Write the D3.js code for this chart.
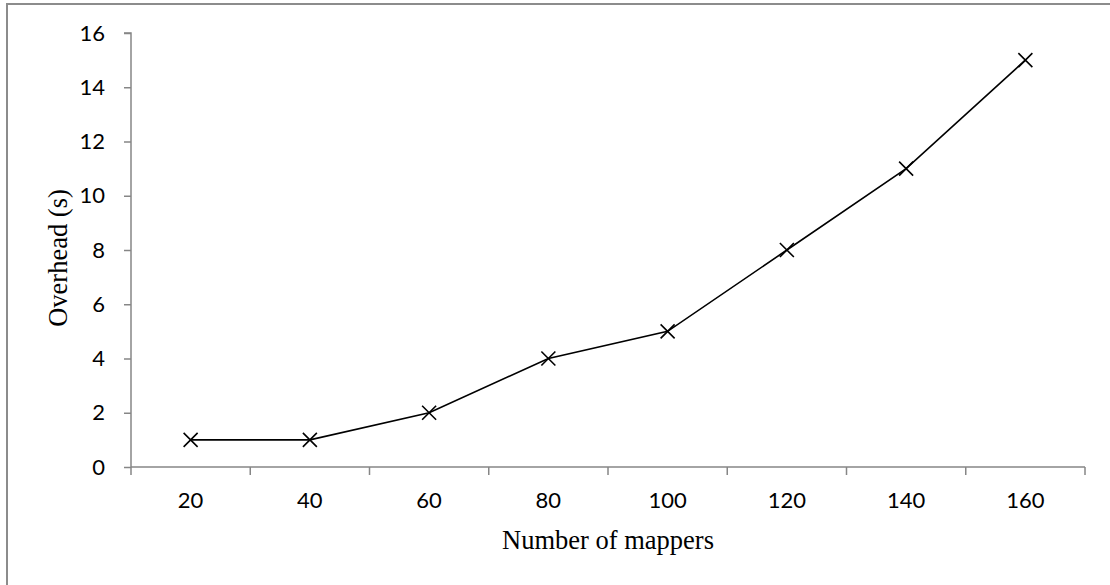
<!DOCTYPE html>
<html>
<head>
<meta charset="utf-8">
<script src="https://cdn.jsdelivr.net/npm/d3@7"></script>
<style>
  body { margin: 0; background: #fff; }
  .axis path, .axis line { stroke: #868686; stroke-width: 1.5; }
  .axis text { font-family: Lato, "Liberation Sans", sans-serif; font-size: 22px; fill: #000; }
</style>
</head>
<body>
<div id="chart"></div>
<script>
// data
const mappers = ["20", "40", "60", "80", "100", "120", "140", "160"];
const overhead = [1, 1, 2, 4, 5, 8, 11, 15];
const yTicks = [0, 2, 4, 6, 8, 10, 12, 14, 16];

const width = 1110;
const height = 585;
const margin = { left: 131, right: 25, top: 33, bottom: 118 };
const plotW = width - margin.left - margin.right;
const plotH = height - margin.top - margin.bottom;

const svg = d3.select("#chart")
  .append("svg")
  .attr("width", width)
  .attr("height", height);

// outer frame (only top and left are visible)
svg.append("rect")
  .attr("x", 7).attr("y", 4)
  .attr("width", width).attr("height", height)
  .attr("fill", "none")
  .attr("stroke", "#8c8c8c")
  .attr("stroke-width", 2);

const xScale = d3.scaleBand()
  .domain(mappers)
  .range([0, plotW]);

const yScale = d3.scaleLinear()
  .domain([0, 16])
  .range([plotH, 0]);

const g = svg.append("g")
  .attr("transform", "translate(" + margin.left + "," + margin.top + ")");

// y axis
const yAxis = d3.axisLeft(yScale)
  .tickValues(yTicks)
  .tickSize(7)
  .tickPadding(19)
  .tickFormat(d3.format("d"));
g.append("g").attr("class", "axis y").call(yAxis)
  .call(a => a.select(".domain").attr("d", "M-7,0H0V" + plotH));

// x axis: labels centred in bands, tick marks on band edges
const xAxisG = g.append("g")
  .attr("class", "axis x")
  .attr("transform", "translate(0," + plotH + ")");
xAxisG.append("path")
  .attr("class", "domain")
  .attr("d", "M0,0H" + plotW);
const edges = mappers.map(m => xScale(m)).concat([plotW]);
xAxisG.selectAll(".edge")
  .data(edges)
  .enter().append("line")
  .attr("class", "edge")
  .attr("x1", d => d).attr("x2", d => d)
  .attr("y1", 0).attr("y2", 8);
xAxisG.selectAll(".lbl")
  .data(mappers)
  .enter().append("text")
  .attr("class", "lbl")
  .attr("x", d => xScale(d) + xScale.bandwidth() / 2)
  .attr("y", 41)
  .attr("text-anchor", "middle")
  .text(d => d);

// line
const pts = mappers.map((m, i) => ({ m: m, v: overhead[i] }));
const line = d3.line()
  .x(d => xScale(d.m) + xScale.bandwidth() / 2)
  .y(d => yScale(d.v));
g.append("path")
  .attr("d", line(pts))
  .attr("fill", "none")
  .attr("stroke", "#000")
  .attr("stroke-width", 1.6);

// x markers
const s = 7;
g.selectAll(".mk")
  .data(pts)
  .enter().append("path")
  .attr("class", "mk")
  .attr("transform", d => "translate(" + (xScale(d.m) + xScale.bandwidth() / 2) + "," + yScale(d.v) + ")")
  .attr("d", "M" + -s + "," + -s + "L" + s + "," + s + "M" + -s + "," + s + "L" + s + "," + -s)
  .attr("stroke", "#000")
  .attr("stroke-width", 1.6);

// axis titles
svg.append("text")
  .attr("x", margin.left + plotW / 2)
  .attr("y", 549)
  .attr("text-anchor", "middle")
  .attr("font-family", "'Liberation Serif', 'Times New Roman', serif")
  .attr("font-size", 26.5)
  .text("Number of mappers");

svg.append("text")
  .attr("transform", "translate(67,258) rotate(-90)")
  .attr("text-anchor", "middle")
  .attr("font-family", "'Liberation Serif', 'Times New Roman', serif")
  .attr("font-size", 26.5)
  .text("Overhead (s)");
</script>
</body>
</html>
